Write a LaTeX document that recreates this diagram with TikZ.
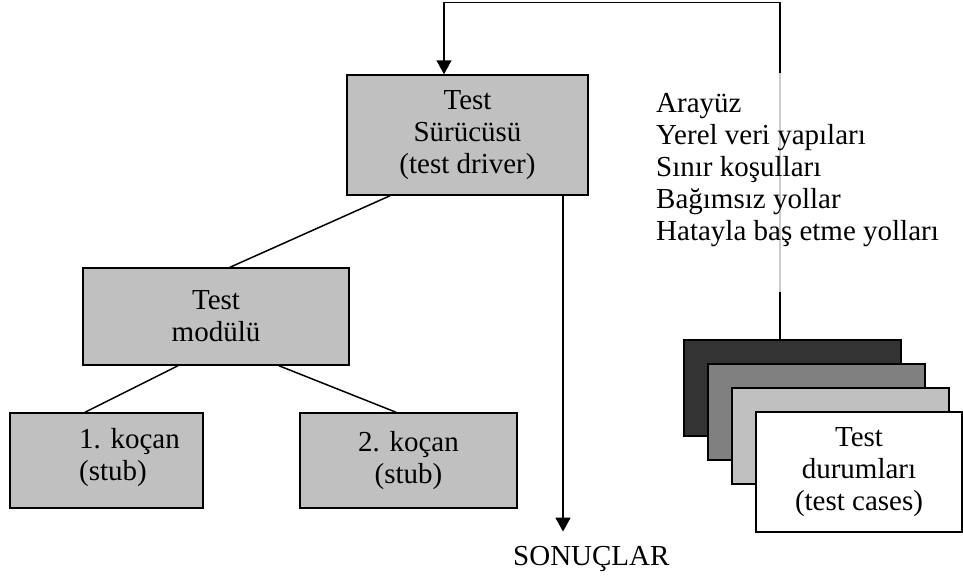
\documentclass[tikz,border=0pt]{standalone}
\usepackage{fontspec}
\setmainfont{Liberation Serif}
\usetikzlibrary{arrows.meta}
\definecolor{boxgray}{HTML}{C0C0C0}
\definecolor{darkcard}{HTML}{333333}
\definecolor{midcard}{HTML}{808080}

\begin{document}
\begin{tikzpicture}[x=1pt,y=-1pt,
  every node/.style={font=\fontsize{29}{32}\selectfont},
  box/.style={draw,line width=1.5pt,fill=boxgray,align=center,inner sep=0pt},
  card/.style={draw,line width=1.5pt,minimum width=217pt,minimum height=96pt,inner sep=0pt},
  link/.style={line width=1.5pt},
  arrow/.style={line width=1.5pt,-{Triangle[width=15pt,length=14pt]}}]
\useasboundingbox (0,0) rectangle (963,576);

\node[box,minimum width=241pt,minimum height=120pt] (driver) at (467.5,135) {Test\\Sürücüsü\\(test driver)};
\node[box,minimum width=266pt,minimum height=97pt] (modul) at (216,316.5) {Test\\modülü};
\node[box,minimum width=193pt,minimum height=95pt] (stub1) at (106.5,460.5) {};
\node[anchor=base west,align=left,inner sep=0pt] (stub1txt) at (79,480) {1. koçan\\(stub)};
\node[box,minimum width=217pt,minimum height=95pt] (stub2) at (408.5,460.5) {2. koçan\\(stub)};

% test case stack
\node[card,fill=darkcard] (card1) at (792.5,388) {};
\node[card,fill=midcard] (card2) at (816.5,412) {};
\node[card,fill=boxgray] (card3) at (840.5,436) {};
\node[card,fill=white,minimum width=206pt,minimum height=120pt,align=center] (card4) at (859,472) {Test\\durumları\\(test cases)};

\node[anchor=base west,inner sep=0pt] (sonuc) at (513,565) {SONUÇLAR};

\draw[link] ([xshift=-77.5pt]driver.south) -- ([xshift=14pt]modul.north);
\draw[link] ([xshift=-38pt]modul.south) -- ([xshift=-21.5pt]stub1.north);
\draw[link] ([xshift=63pt]modul.south) -- ([xshift=-12.5pt]stub2.north);

\coordinate (out) at ([xshift=95.5pt]driver.south);
\draw[arrow,shorten >=14pt] (out) -- (out |- sonuc.north);

\coordinate (back) at ([xshift=-12.5pt]card1.north);
\draw[arrow] (back) |- ([xshift=-23.5pt,yshift=72pt]driver.north) -- ([xshift=-23.5pt]driver.north);

% list of things tested
\fill[white,opacity=.8] (650,73) rectangle (963,292);
\node[anchor=base west,align=left,inner sep=0pt] (checks) at (656,240) {Arayüz\\Yerel veri yapıları\\Sınır koşulları\\Bağımsız yollar\\Hatayla baş etme yolları};
\end{tikzpicture}
\end{document}
